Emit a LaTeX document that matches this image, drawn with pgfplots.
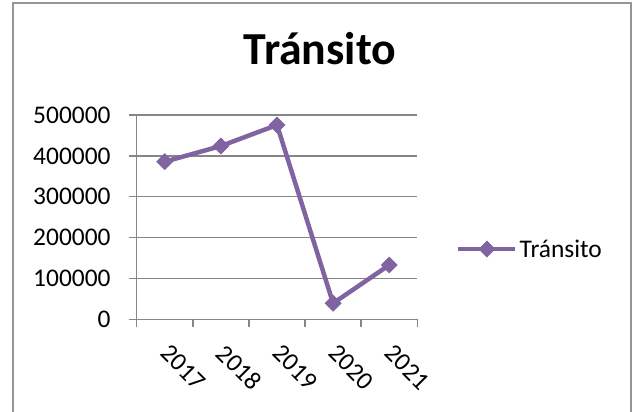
\documentclass[border=0pt]{standalone}
\usepackage{pgfplots}
\pgfplotsset{compat=1.18}
\usepackage{fontspec}
\setmainfont{Carlito}

\definecolor{serie}{RGB}{128,100,162}
\definecolor{rejilla}{RGB}{134,134,134}
\definecolor{marco}{RGB}{150,150,150}

\begin{document}
\begin{tikzpicture}
\useasboundingbox (0,0) rectangle (635bp,412bp);
% chart frame
\draw[marco, line width=2bp] (13bp,-2bp) -- (13bp,408.5bp) -- (631bp,408.5bp) -- (631bp,-2bp);
\begin{axis}[
  at={(136.7bp,92.7bp)}, anchor=south west,
  scale only axis, width=280.6bp, height=204.3bp,
  xmin=-0.5, xmax=4.5, ymin=0, ymax=500000,
  axis x line*=bottom, axis y line*=left,
  axis line style={rejilla, line width=1.5bp},
  xtick={0,1,2,3,4},
  xticklabels={2017,2018,2019,2020,2021},
  minor xtick={-0.5,0.5,1.5,2.5,3.5,4.5},
  ytick={0,100000,200000,300000,400000,500000},
  scaled y ticks=false,
  yticklabel style={/pgf/number format/fixed,
    /pgf/number format/1000 sep={},
    /pgf/number format/assume math mode=true},
  ymajorgrids,
  major grid style={rejilla, line width=1.5bp},
  tick align=outside,
  major tick length=8bp, minor tick length=8bp,
  tick style={rejilla, line width=1.5bp},
  major x tick style={draw=none},
  tick label style={font=\fontsize{25.5}{30}\selectfont},
  yticklabel style={anchor=east, inner sep=0pt, xshift=-18bp},
  xticklabel style={anchor=center, inner sep=0pt, xshift=18.3bp, yshift=-40bp, rotate=-45},
  title={Tránsito},
  title style={font=\fontsize{46}{52}\selectfont\bfseries, at={(0.653,1.22)}, anchor=base},
  legend style={at={(1.138,0.344)}, anchor=west, draw=none, fill=none,
    font=\fontsize{25.5}{30}\selectfont, inner sep=0pt},
  legend cell align=left,
  legend image code/.code={\draw[mark repeat=2, mark phase=2, #1]
    plot coordinates {(0bp,0bp) (28.5bp,0bp) (57bp,0bp)};},
]
\addplot[serie, line width=4.5bp, mark=square*, mark size=5.5bp,
  mark options={rotate=45, solid, line width=1bp, fill=serie}]
  coordinates {(0,385700) (1,424100) (2,475500) (3,39200) (4,132900)};
\addlegendentry{Tránsito}
\end{axis}
\end{tikzpicture}
\end{document}
